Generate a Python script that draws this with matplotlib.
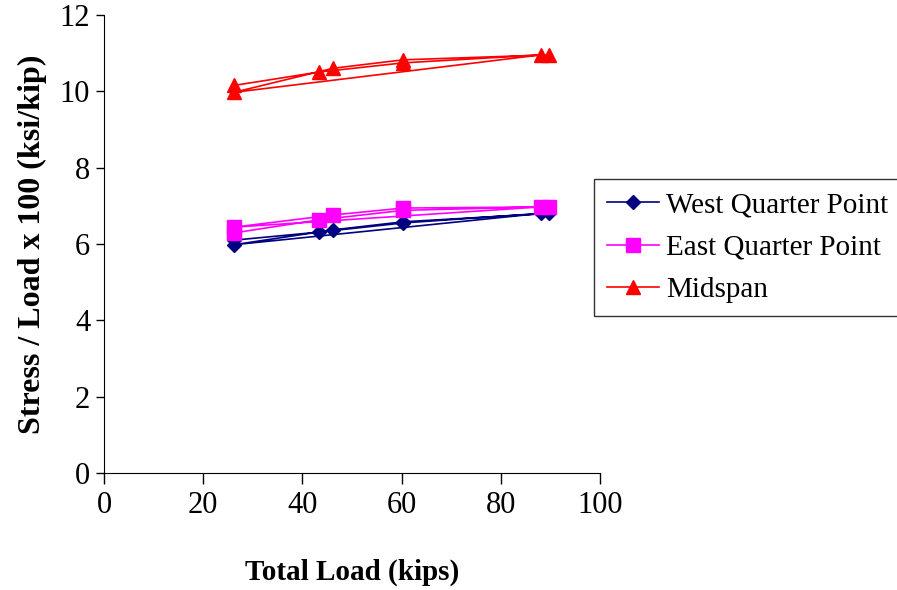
import matplotlib
matplotlib.use("Agg")
import matplotlib.pyplot as plt

plt.rcParams["font.family"] = ["Liberation Serif", "DejaVu Serif"]

# 加载顺序：两轮试验
loads = [26.2, 43.3, 60.3, 88.1, 26.2, 46.2, 60.3, 89.7]

west = [6.10, 6.31, 6.55, 6.80, 5.98, 6.37, 6.58, 6.80]
east = [6.29, 6.63, 6.88, 6.97, 6.44, 6.76, 6.94, 6.97]
midspan = [10.15, 10.50, 10.74, 10.95, 9.97, 10.60, 10.82, 10.95]

x_ticks = [0, 20, 40, 60, 80, 100]
y_ticks = [0, 2, 4, 6, 8, 10, 12]

fig = plt.figure(figsize=(8.97, 5.9), dpi=100)
ax = fig.add_axes([0.116, 0.198, 0.553, 0.777])

ax.plot(loads, west, color="#000080", marker="D", markersize=7.5, linewidth=1.2,
        label="West Quarter Point")
ax.plot(loads, east, color="#FF00FF", marker="s", markersize=10, linewidth=1.2,
        label="East Quarter Point")
ax.plot(loads, midspan, color="#FF0000", marker="^", markersize=10, linewidth=1.2,
        label="Midspan")

ax.set_xlim(0, 100)
ax.set_ylim(0, 12)
ax.set_xticks(x_ticks)
ax.set_yticks(y_ticks)
ax.spines["top"].set_visible(False)
ax.spines["right"].set_visible(False)
ax.tick_params(axis="both", direction="out", labelsize=22, width=1)
ax.tick_params(axis="x", length=8, pad=5)
ax.tick_params(axis="y", length=6, pad=4)

ax.set_xlabel("Total Load (kips)", fontsize=21, fontweight="bold", labelpad=28)
ax.set_ylabel("Stress / Load x 100 (ksi/kip)", fontsize=23, fontweight="bold",
              labelpad=9)

# 图例
leg = fig.legend(loc="center", bbox_to_anchor=(0.667, 0.461, 0.333, 0.239),
                 fontsize=21, frameon=True, fancybox=False, edgecolor="black",
                 handlelength=1.8, handletextpad=0.25, borderpad=0.45,
                 labelspacing=0.55, borderaxespad=0)
leg.get_frame().set_linewidth(1.0)

plt.savefig("out.png", dpi=100)
